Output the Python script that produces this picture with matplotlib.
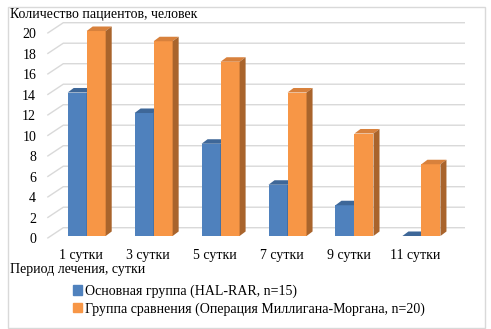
import matplotlib
matplotlib.use("Agg")
import matplotlib.pyplot as plt
from matplotlib.patches import Polygon, Rectangle, Patch

# data
periods = ["1 сутки", "3 сутки", "5 сутки", "7 сутки", "9 сутки", "11 сутки"]
main_group = [14, 12, 9, 5, 3, 0]
control_group = [20, 19, 17, 14, 10, 7]
y_ticks = list(range(0, 21, 2))
series_names = [
    "Основная группа (HAL-RAR, n=15)",
    "Группа сравнения (Операция Миллигана-Моргана, n=20)",
]
y_title = "Количество пациентов, человек"
x_title = "Период лечения, сутки"

plt.rcParams["font.family"] = ["Liberation Serif", "DejaVu Serif"]
plt.rcParams["font.size"] = 10

W, H = 491, 329
fig = plt.figure(figsize=(W / 100, H / 100), dpi=100)

# fake 3d: front plane is the axes, back wall shifted by (WALL_DX, WALL_DY)
WALL_DX, WALL_DY = 0.239, 1.034
BAR_W = 0.284
BAR_SHIFT_X, BAR_SHIFT_Y = 0.088, 0.224
DEPTH_DX, DEPTH_DY = 0.09, 0.44

blue = ("#4F81BD", "#3E6798", "#385D8A")
orange = ("#F79646", "#D8813C", "#A9642C")
grid_c = "#D9D9D9"

ax = fig.add_axes([47.3 / W, (H - 238.3) / H, 401.7 / W, 205 / H])
ax.set_xlim(-0.5, 5.5)
ax.set_ylim(0, 20)
for s in ax.spines.values():
    s.set_visible(False)
ax.patch.set_visible(False)

# gridlines on the back wall + side wall diagonals
for v in y_ticks:
    ax.plot([-0.5, -0.5 + WALL_DX, 5.5 + WALL_DX], [v, v + WALL_DY, v + WALL_DY],
            color=grid_c, lw=1.0, clip_on=False, zorder=1, solid_capstyle="butt")


def draw_bar(x0, v, colors):
    front, top, side = colors
    b = ax.bar(x0, v, width=BAR_W, bottom=BAR_SHIFT_Y, align="edge",
               color=front, linewidth=0, zorder=3)
    for p in b:
        p.set_clip_on(False)
    y0, y1 = BAR_SHIFT_Y, BAR_SHIFT_Y + v
    ax.add_patch(Polygon([(x0, y1), (x0 + BAR_W, y1),
                          (x0 + BAR_W + DEPTH_DX, y1 + DEPTH_DY),
                          (x0 + DEPTH_DX, y1 + DEPTH_DY)],
                         closed=True, color=top, lw=0, clip_on=False, zorder=3))
    ax.add_patch(Polygon([(x0 + BAR_W, y0), (x0 + BAR_W + DEPTH_DX, y0 + DEPTH_DY),
                          (x0 + BAR_W + DEPTH_DX, y1 + DEPTH_DY), (x0 + BAR_W, y1)],
                         closed=True, color=side, lw=0, clip_on=False, zorder=3))


for i in range(len(periods)):
    draw_bar(i + BAR_SHIFT_X - BAR_W, main_group[i], blue)
    draw_bar(i + BAR_SHIFT_X, control_group[i], orange)

ax.set_yticks(y_ticks)
ax.set_xticks(range(len(periods)))
ax.set_xticklabels(periods)
ax.tick_params(axis="both", length=0, labelsize=10, colors="black")
ax.tick_params(axis="y", pad=8)
ax.tick_params(axis="x", pad=7.5)

fig.text(10 / W, 1 - 14.5 / H, y_title, ha="left", va="center", fontsize=10)
fig.text(10 / W, 1 - 269.5 / H, x_title, ha="left", va="center", fontsize=10)

handles = [Patch(color=blue[0]), Patch(color=orange[0])]
fig.legend(handles, series_names, loc="upper left",
           bbox_to_anchor=(72.7 / W, 1 - 284.5 / H), frameon=False,
           borderpad=0, borderaxespad=0, handlelength=0.65, handleheight=0.65,
           handletextpad=0.25, labelspacing=0.32, fontsize=10)

fig.patches.append(Rectangle((8 / W, 1.5 / H), 477 / W, 321 / H, fill=False,
                             edgecolor="#D9D9D9", lw=1.0, transform=fig.transFigure))

fig.savefig("out.png", dpi=100)
